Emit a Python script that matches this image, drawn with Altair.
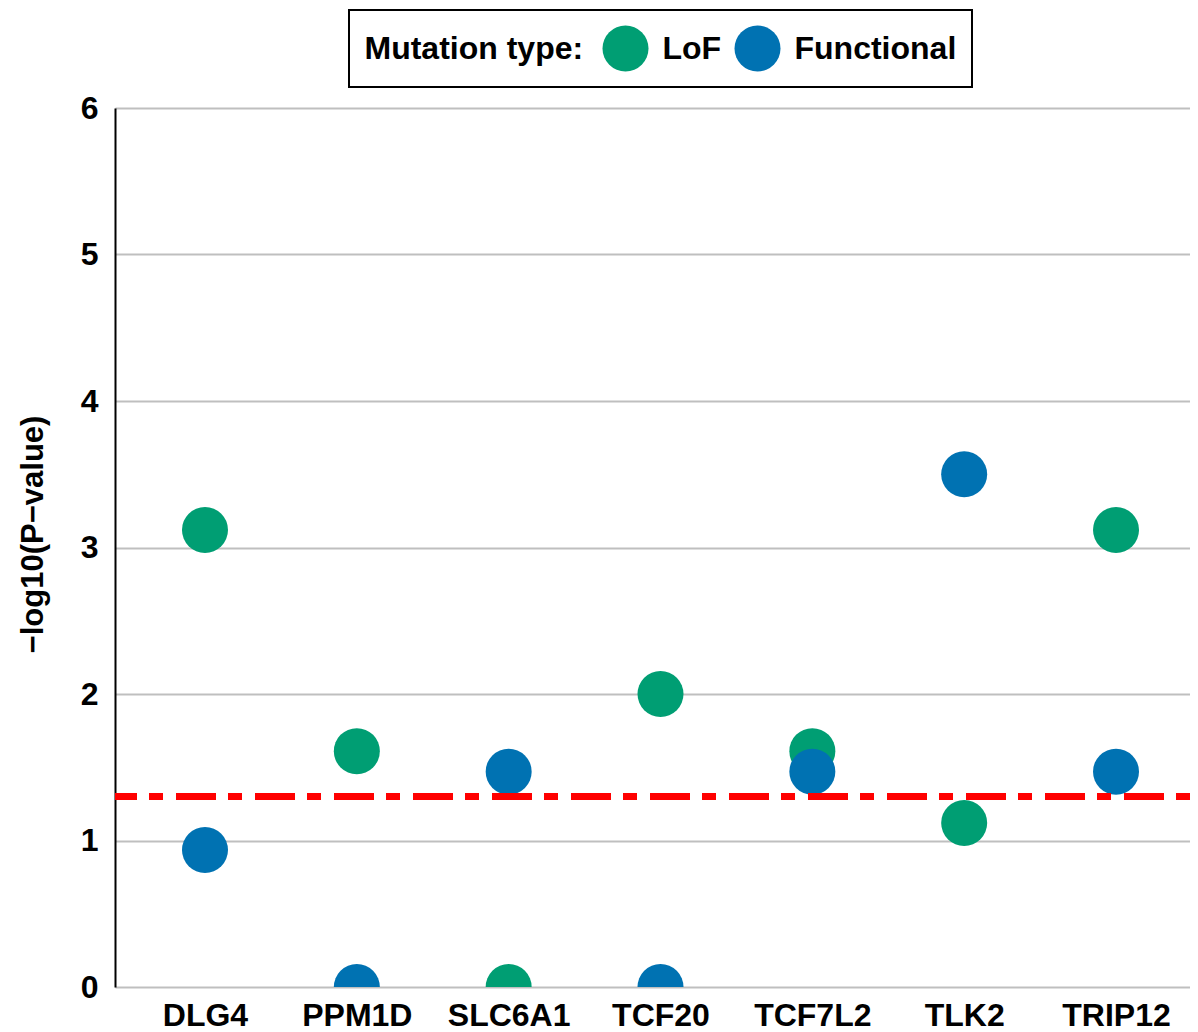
import altair as alt
import pandas as pd

genes = ["DLG4", "PPM1D", "SLC6A1", "TCF20", "TCF7L2", "TLK2", "TRIP12"]
lof = [3.12, 1.61, 0.0, 2.0, 1.61, 1.12, 3.12]
functional = [0.935, 0.0, 1.47, 0.0, 1.47, 3.50, 1.47]
mutation_types = ["LoF", "Functional"]
colors = ["#009E73", "#0072B2"]
threshold = [1.3]
y_ticks = [0, 1, 2, 3, 4, 5, 6]

FONT = "Liberation Sans"

df = pd.DataFrame({
    "gene": genes * 2,
    "type": ["LoF"] * len(genes) + ["Functional"] * len(genes),
    "value": lof + functional,
    "order": [0] * len(genes) + [1] * len(genes),
})

x_enc = alt.X(
    "gene:N", sort=genes,
    scale=alt.Scale(type="point", padding=0.54),
    axis=alt.Axis(title=None, labelAngle=0, domain=False, ticks=False, grid=False,
                  labelFontSize=32, labelFont=FONT, labelFontWeight="bold",
                  labelColor="black", labelPadding=13, labelOffset=8),
)
y_enc = alt.Y(
    "value:Q",
    scale=alt.Scale(domain=[0, 6], nice=False, zero=True),
    axis=alt.Axis(title="−log10(P−value)", values=y_ticks, format="d", ticks=False,
                  domain=True, domainColor="black", domainWidth=2,
                  grid=True, gridColor="#bfbfbf", gridWidth=2,
                  labelFontSize=32, labelFont=FONT, labelFontWeight="bold",
                  labelColor="black", labelPadding=17,
                  titleFontSize=31, titleFont=FONT, titleFontWeight="bold",
                  titleColor="black", titleAngle=270, titleX=-73, titleY=426,
                  titleAlign="center", titleBaseline="alphabetic"),
)

points = alt.Chart(df).mark_circle(size=2116, opacity=1, clip=True, xOffset=8).encode(
    x=x_enc,
    y=y_enc,
    color=alt.Color(
        "type:N",
        scale=alt.Scale(domain=mutation_types, range=colors),
        legend=alt.Legend(
            title="Mutation type:", orient="none", legendX=234, legendY=-98,
            direction="horizontal", titleOrient="left",
            titleFontSize=32, titleFont=FONT, titleFontWeight="bold", titleColor="black",
            titlePadding=19, titleLimit=0,
            labelFontSize=32, labelFont=FONT, labelFontWeight="bold", labelColor="black",
            labelOffset=14, columnPadding=13, labelLimit=0,
            symbolSize=2116, symbolType="circle", symbolStrokeWidth=0, symbolOpacity=1,
            padding=15.5, strokeColor="black",
        ),
    ),
    order=alt.Order("order:Q"),
)

rule = alt.Chart(pd.DataFrame({"y": threshold})).mark_rule(
    color="#ff0000", strokeWidth=7, strokeDash=[14, 12, 40, 13]
).encode(y=alt.Y("y:Q"))

chart = alt.layer(points, rule).properties(
    width=1075, height=879,
    autosize=alt.AutoSizeParams(type="none"),
    padding={"left": 107, "top": 100, "right": 0, "bottom": 46},
    background="white",
).configure_view(stroke=None).configure_legend(strokeWidth=2)

chart.save("out.html", embed_options={"renderer": "svg", "actions": False})
